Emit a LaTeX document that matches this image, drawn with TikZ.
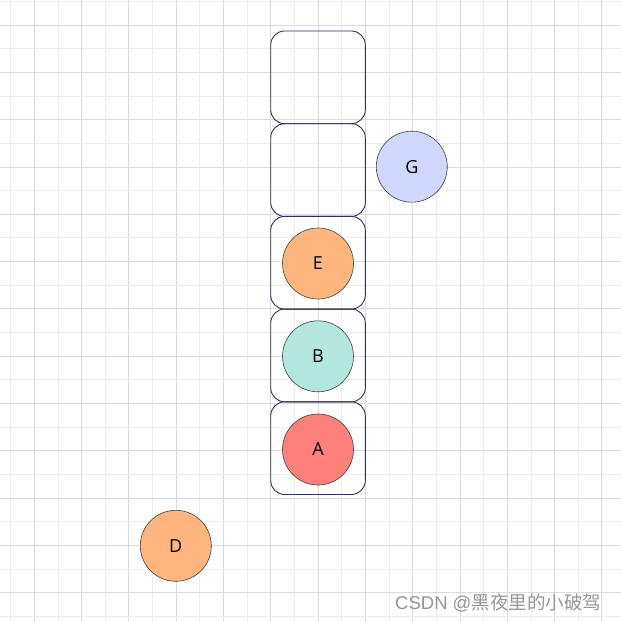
\documentclass[tikz,border=0pt]{standalone}
\usepackage{fontspec}
\setmainfont{Open Sans}
\newfontfamily\cjkfont{Noto Sans CJK SC}
\newfontfamily\wmlatin{Liberation Sans}
\definecolor{gridminor}{RGB}{236,236,236}
\definecolor{gridmajor}{RGB}{218,218,218}
\definecolor{boxline}{RGB}{46,50,88}
\definecolor{cred}{RGB}{255,127,122}
\definecolor{cteal}{RGB}{180,232,222}
\definecolor{corange}{RGB}{255,181,125}
\definecolor{cblue}{RGB}{209,216,255}
\definecolor{wmark}{RGB}{150,150,150}
\tikzset{
  slot/.style={draw=boxline, line width=0.9pt, rounded corners=14pt, minimum width=94.6pt, minimum height=92.7pt, inner sep=0pt, fill=none},
  ball/.style={circle, draw=black!75, line width=0.6pt, minimum size=71pt, inner sep=0pt, font=\fontsize{18}{21}\selectfont},
}
\begin{document}
\begin{tikzpicture}[x=1pt,y=-1pt]
\useasboundingbox (0,0) rectangle (621,621);
\fill[white] (0,0) rectangle (621,621);
% grid
\foreach \k in {0,...,26} {
  \pgfmathsetmacro{\xx}{10.66+23.65*\k}
  \pgfmathsetmacro{\yy}{1.4+23.65*\k}
  \pgfmathtruncatemacro{\odd}{mod(\k,2)}
  \ifnum\odd=1
    \draw[gridmajor, line width=0.9pt] (\xx,0) -- (\xx,621);
    \draw[gridmajor, line width=0.9pt] (0,\yy) -- (621,\yy);
  \else
    \draw[gridminor, line width=0.9pt] (\xx,0) -- (\xx,621);
    \draw[gridminor, line width=0.9pt] (0,\yy) -- (621,\yy);
  \fi
}
% slots
\node[slot] (s1) at (318,77.35) {};
\node[slot] (s2) at (318,170.05) {};
\node[slot] (s3) at (318,262.75) {};
\node[slot] (s4) at (318,355.45) {};
\node[slot] (s5) at (318,448.15) {};
% balls
\node[ball, fill=corange] (E) at (318,263.5) {E};
\node[ball, fill=cteal] (B) at (318,356.3) {B};
\node[ball, fill=cred] (A) at (318,449.5) {A};
\node[ball, fill=cblue] (G) at (411.8,166.7) {G};
\node[ball, fill=corange] (D) at (175.8,545.8) {D};
% watermark
\node[anchor=base west, inner sep=0pt, text=wmark, font=\fontsize{18.5}{21}\selectfont] (wm) at (395,609.5) {\wmlatin CSDN @\cjkfont 黑夜里的小破驾};
\end{tikzpicture}
\end{document}
